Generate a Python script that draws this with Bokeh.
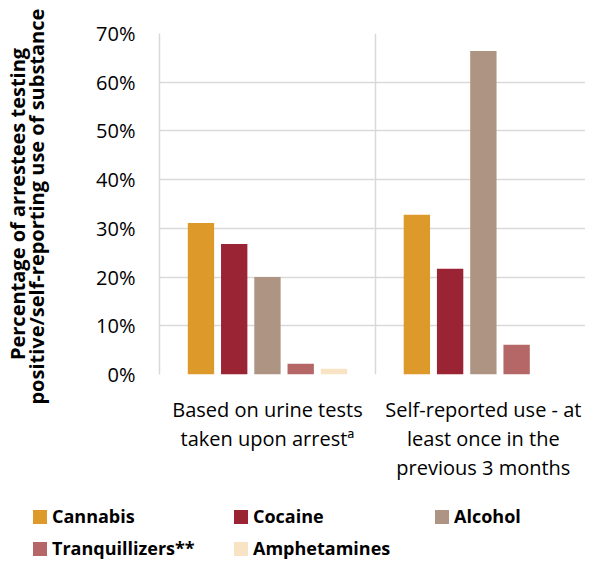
from bokeh.plotting import figure
from bokeh.layouts import column
from bokeh.models import (ColumnDataSource, Range1d, FixedTicker, NumeralTickFormatter, Div)
from bokeh.transform import dodge
from bokeh.embed import file_html
from bokeh.resources import INLINE

categories = ["Based on urine tests\ntaken upon arrestª",
              "Self-reported use - at\nleast once in the\nprevious 3 months"]
cat_pos = [0.5, 1.5]
series = ["Cannabis", "Cocaine", "Alcohol", "Tranquillizers**", "Amphetamines"]
colors = ["#DD9A2B", "#9A2334", "#AD9483", "#B56767", "#F8E3C4"]
cannabis = [0.311, 0.328]
cocaine = [0.268, 0.217]
alcohol = [0.200, 0.664]
tranquillizers = [0.022, 0.061]
amphetamines = [0.012, 0.0]

FONT = "Open Sans"

src = ColumnDataSource(dict(x=cat_pos, cannabis=cannabis, cocaine=cocaine, alcohol=alcohol,
                            tranquillizers=tranquillizers, amphetamines=amphetamines))
keys = ["cannabis", "cocaine", "alcohol", "tranquillizers", "amphetamines"]

p = figure(width=585, height=488,
           output_backend="svg", toolbar_location=None,
           x_range=Range1d(0, 1.973), y_range=Range1d(0, 0.7),
           min_border_left=149, min_border_top=33, min_border_right=0, min_border_bottom=114)
p.outline_line_color = None

step = 0.154
for i, k in enumerate(keys):
    p.vbar(x=dodge("x", (i - 2) * step, range=p.x_range), top=k, width=0.122, source=src,
           fill_color=colors[i], line_color=None)

# axes
p.yaxis.ticker = FixedTicker(ticks=[0, 0.1, 0.2, 0.3, 0.4, 0.5, 0.6, 0.7])
p.yaxis.formatter = NumeralTickFormatter(format="0%")
p.yaxis.major_tick_line_color = None
p.yaxis.minor_tick_line_color = None
p.yaxis.major_tick_out = 0
p.yaxis.minor_tick_out = 0
p.yaxis.axis_line_color = "#D9D9D9"
p.yaxis.axis_line_width = 1.5
p.yaxis.major_label_text_font = FONT
p.yaxis.major_label_text_font_size = "20px"
p.yaxis.major_label_text_color = "#000000"
p.yaxis.major_label_standoff = 24
p.yaxis.axis_label = "Percentage of arrestees testing\npositive/self-reporting use of  substance"
p.yaxis.axis_label_text_font = FONT
p.yaxis.axis_label_text_font_style = "bold"
p.yaxis.axis_label_text_font_size = "20px"
p.yaxis.axis_label_text_line_height = 0.72
p.yaxis.axis_label_text_color = "#000000"
p.yaxis.axis_label_standoff = 43

p.xaxis.ticker = FixedTicker(ticks=cat_pos)
p.xaxis.major_label_overrides = {cat_pos[0]: categories[0], cat_pos[1]: categories[1]}
p.xaxis.major_tick_line_color = None
p.xaxis.minor_tick_line_color = None
p.xaxis.major_tick_out = 0
p.xaxis.minor_tick_out = 0
p.xaxis.axis_line_color = None
p.xaxis.major_label_text_font = FONT
p.xaxis.major_label_text_font_size = "20px"
p.xaxis.major_label_text_color = "#000000"
p.xaxis.major_label_text_line_height = 1.08
p.xaxis.major_label_standoff = 21

p.ygrid.grid_line_color = "#D9D9D9"
p.ygrid.grid_line_width = 1.5
p.xgrid.ticker = FixedTicker(ticks=[1.0])
p.xgrid.grid_line_color = "#D9D9D9"
p.xgrid.grid_line_width = 1.5

# legend as an HTML strip below the chart (3 columns, row-major)
parts = []
for i, (s, c) in enumerate(zip(series, colors)):
    col, row = i % 3, i // 3
    left = 33 + col * 201
    top = 18 + row * 32
    parts.append(
        f'<div style="position:absolute;left:{left}px;top:{top}px;height:22px;'
        f'display:flex;align-items:center;white-space:nowrap;">'
        f'<span style="display:inline-block;width:14px;height:14px;background:{c};'
        f'margin-right:5px;"></span>{s}</div>')
legend_html = ('<div style="position:relative;width:585px;height:72px;'
               f"font-family:'{FONT}';font-weight:bold;font-size:18px;color:#000000;\">"
               + "".join(parts) + "</div>")
legend_div = Div(text=legend_html, width=585, height=72, margin=0)

layout = column(p, legend_div, spacing=0)
open("out.html", "w").write(file_html(layout, INLINE))
